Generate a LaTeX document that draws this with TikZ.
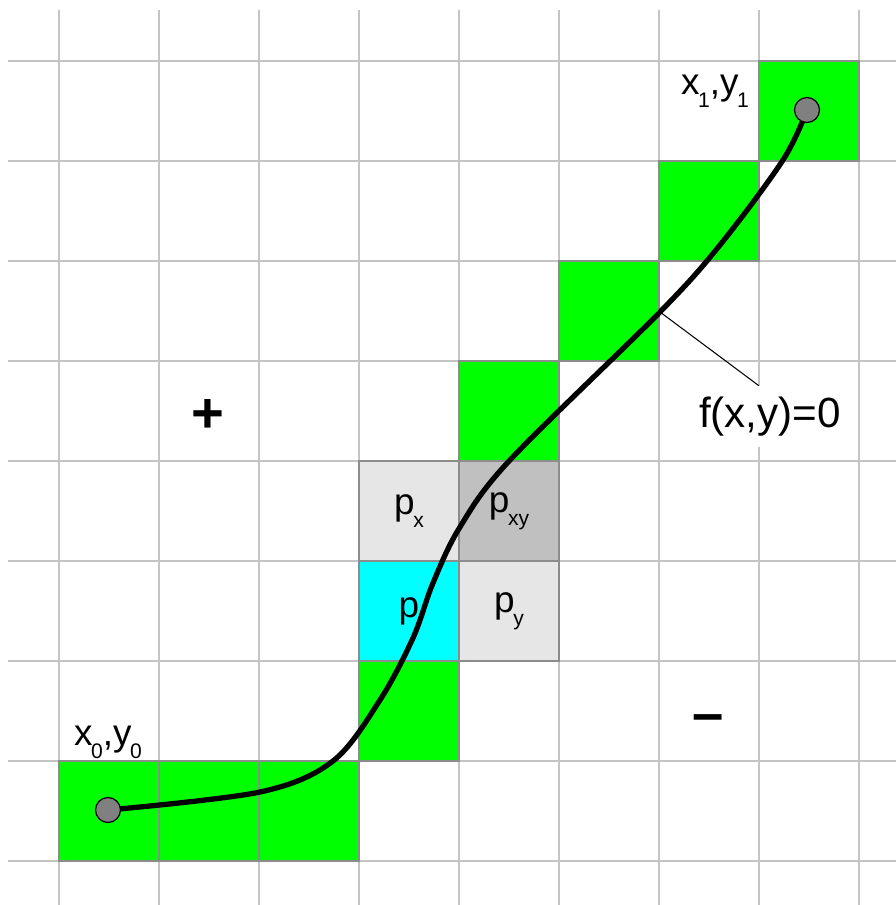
\documentclass[tikz,border=0pt]{standalone}
\usepackage{fontspec}
\setmainfont{Liberation Sans}
\usepackage{xcolor}
\usepackage{tikz}
\usetikzlibrary{positioning}

\definecolor{gridgray}{HTML}{C4C4C4}
\definecolor{edgegray}{HTML}{8C8C8C}
\definecolor{lightcell}{HTML}{E6E6E6}
\definecolor{darkcell}{HTML}{C0C0C0}
\definecolor{hitgreen}{HTML}{00FF00}
\definecolor{hitcyan}{HTML}{00FFFF}
\definecolor{dotgray}{HTML}{808080}

\newcommand{\lowidx}[1]{\kern-0.4pt\raisebox{-3.7pt}{\fontsize{6}{7}\selectfont #1}}

\begin{document}
\begin{tikzpicture}[
    node distance=0pt,
    cell/.style={rectangle, draw=edgegray, line width=0.4pt, minimum width=1cm, minimum height=1cm, inner sep=0pt, outer sep=0pt, font=\fontsize{10.5}{12}\selectfont},
    hit/.style={cell, fill=hitgreen},
    gridline/.style={draw=gridgray, line width=0.45pt},
    curve/.style={line width=1.5pt, line cap=round},
    endpt/.style={circle, draw, fill=dotgray, line width=0.35pt, minimum size=0.25cm, inner sep=0pt},
    ptlabel/.style={font=\fontsize{10.5}{12}\selectfont},
    sign/.style={font=\fontsize{16}{18}\selectfont\bfseries}
]
\useasboundingbox (-0.59,-0.44) rectangle (8.37,8.61);

% GRID
\draw[gridline] (-0.51,-0.44) grid (8.37,8.51);

% PIXEL P AND ITS NEIGHBOURS
\node[cell, fill=hitcyan] (p) at (3.5,2.5) {p};
\node[cell, fill=lightcell, right=of p] (py) {p\lowidx{y}};
\node[cell, fill=lightcell, above=of p] (px) {p\lowidx{x}};
\node[cell, fill=darkcell, right=of px] (pxy) {p\lowidx{xy}};

% PIXELS ALONG THE CURVE
\node[hit, below=of p] (h1) {};
\node[hit, below left=of h1] (h0c) {};
\node[hit, left=of h0c] (h0b) {};
\node[hit, left=of h0b] (h0a) {};
\node[hit, above=of pxy] (h4) {};
\node[hit, above right=of h4] (h5) {};
\node[hit, above right=of h5] (h6) {};
\node[hit, above right=of h6] (h7) {};

% CURVE
\coordinate (start) at (0.49,0.51);
\coordinate (finish) at (7.48,7.51);
\coordinate (touch) at (6.01,5.49);
\draw[curve] plot[smooth, tension=0.55] coordinates {(start) (2.01,0.69) (2.74,1.00) (3.21,1.61) (3.54,2.23) (3.74,2.78) (4.01,3.34) (4.51,4.01) (touch) (6.61,6.16) (7.24,7.01) (finish)};

% END POINTS
\node[endpt] (dot0) at (start) {};
\node[endpt] (dot1) at (finish) {};
\node[ptlabel] (lab0) at (0.49,1.19) {x\lowidx{0},y\lowidx{0}};
\node[ptlabel] (lab1) at (6.56,7.70) {x\lowidx{1},y\lowidx{1}};

% LABELS
\node[fill=white, inner xsep=2pt, inner ysep=3pt, font=\fontsize{12}{14}\selectfont] (fx) at (7.11,4.445) {f(x,y)=0};
\draw[line width=0.3pt] (touch) -- (fx.110);
\node[sign] (plus) at (1.49,4.45) {+};
\node[sign] (minus) at (6.49,1.37) {–};

\end{tikzpicture}
\end{document}
